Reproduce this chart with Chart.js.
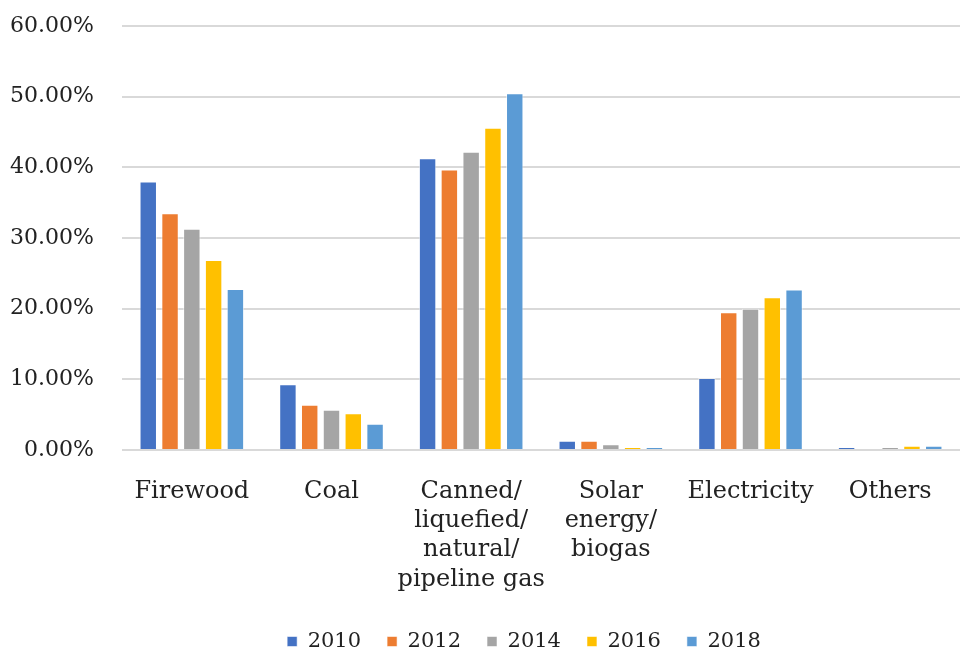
<!DOCTYPE html>
<html>
<head>
<meta charset="utf-8">
<script src="https://cdn.jsdelivr.net/npm/chart.js@4/dist/chart.umd.min.js"></script>
<style>
  html, body { margin: 0; padding: 0; background: #fff; }
  #wrap { width: 960px; height: 654px; }
</style>
</head>
<body>
<div id="wrap"><canvas id="fuelChart" width="960" height="654"></canvas></div>
<script>
// Household cooking fuel shares by year (percent)
const categories = ['Firewood', 'Coal', ['Canned/', 'liquefied/', 'natural/', 'pipeline gas'], ['Solar', 'energy/', 'biogas'], 'Electricity', 'Others'];
const years = ['2010', '2012', '2014', '2016', '2018'];
const values2010 = [38.0, 9.3, 41.3, 1.3, 10.2, 0.4];
const values2012 = [33.5, 6.4, 39.7, 1.3, 19.5, 0.0];
const values2014 = [31.3, 5.7, 42.2, 0.8, 20.0, 0.4];
const values2016 = [26.9, 5.2, 45.6, 0.4, 21.6, 0.6];
const values2018 = [22.8, 3.7, 50.5, 0.4, 22.7, 0.6];
const yTicks = [0, 10, 20, 30, 40, 50, 60];

const colors = ['#4472C4', '#ED7D31', '#A5A5A5', '#FFC000', '#5B9BD5'];
const seriesValues = [values2010, values2012, values2014, values2016, values2018];
const font = 'DejaVu Serif';

const datasets = years.map((y, i) => ({
    label: y,
    data: seriesValues[i],
    backgroundColor: colors[i],
    borderColor: 'rgba(255,255,255,0.55)',
    borderWidth: 1,
    categoryPercentage: 0.78,
    barPercentage: 0.8
}));

new Chart(document.getElementById('fuelChart'), {
    type: 'bar',
    data: { labels: categories, datasets },
    options: {
        responsive: false,
        animation: false,
        // big left padding keeps the legend centred under the plot like the original;
        // y labels are mirrored with negative padding so they are not clipped
        layout: { padding: { left: 88, right: 0, top: 26, bottom: -8 } },
        plugins: {
            tooltip: { enabled: false },
            legend: {
                position: 'bottom',
                labels: {
                    color: '#222',
                    font: { family: font, size: 21 },
                    boxWidth: 10,
                    boxHeight: 10,
                    padding: 26
                }
            }
        },
        scales: {
            x: {
                grid: { display: false },
                border: { display: false },
                afterFit: s => { s.height = 155; s.paddingLeft = 0; s.paddingRight = 0; },
                ticks: {
                    color: '#222',
                    font: { family: font, size: 24, lineHeight: 1.22 },
                    maxRotation: 0,
                    autoSkip: false,
                    padding: 19
                }
            },
            y: {
                min: 0,
                max: 60,
                afterBuildTicks: scale => { scale.ticks = yTicks.map(v => ({ value: v })); },
                afterFit: s => { s.width = 34; s.paddingTop = 0; s.paddingBottom = 0; },
                grid: { color: '#d9d9d9', lineWidth: 2, drawTicks: false },
                border: { display: false },
                ticks: {
                    color: '#222',
                    font: { family: font, size: 22 },
                    mirror: true,
                    crossAlign: 'far',
                    padding: -112,
                    callback: v => v.toFixed(2) + '%'
                }
            }
        }
    }
});
</script>
</body>
</html>
